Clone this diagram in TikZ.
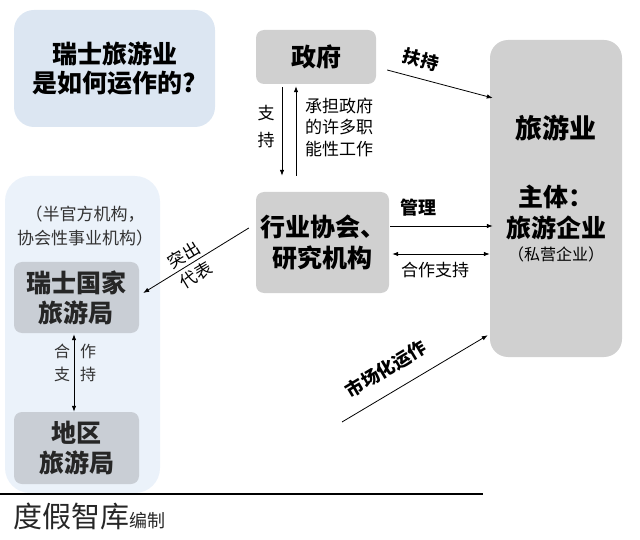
\documentclass[tikz,border=0pt]{standalone}
\usepackage{fontspec}
\setmainfont{Noto Sans CJK SC}
\usetikzlibrary{arrows.meta}
\definecolor{boxgray}{HTML}{D0D0D0}
\definecolor{titleblue}{HTML}{DCE6F2}
\definecolor{paleblue}{HTML}{EBF2FA}
\definecolor{bureaugray}{HTML}{C9CED5}
\tikzset{box/.style = {rounded corners=8pt, align=center, inner sep=0pt,
                       font=\bfseries\fontsize{25}{30}\selectfont},
         graybox/.style = {box, fill=boxgray},
         bureau/.style = {box, fill=bureaugray, text=black!85},
         small/.style = {align=center, inner sep=0pt, font=\fontsize{17}{24}\selectfont},
         tag/.style = {inner sep=0pt, font=\bfseries\fontsize{18}{22}\selectfont},
         link/.style = {->, line width=0.8pt}}

\begin{document}
\begin{tikzpicture}[x=1pt,y=-1pt,>={Latex[length=6pt,width=4.5pt]}]
    \useasboundingbox(0,0)rectangle(640,540);

    \node[box,fill=titleblue,rounded corners=20pt,minimum width=201pt,minimum height=117pt,
          font=\bfseries\fontsize{25}{29}\selectfont](title)at(114.5,68.5){瑞士旅游业\\是如何运作的?};
    \node[box,fill=paleblue,rounded corners=25pt,minimum width=155pt,minimum height=317pt](panel)at(82.5,334.5){};

    \node[graybox,minimum width=120pt,minimum height=54pt](gov)at(316,57){政府};
    \node[graybox,minimum width=133pt,minimum height=101pt,
          font=\bfseries\fontsize{25}{31}\selectfont](assoc)at(322.5,242.5){行业协会、\\研究机构};
    \node[graybox,rounded corners=18pt,minimum width=132pt,minimum height=317pt](tour)at(556,198.5){};
    \node[box,font=\bfseries\fontsize{27}{30}\selectfont](tourname)at(556,128){旅游业};
    \node[box,font=\bfseries\fontsize{25}{31}\selectfont](tourbody)at(556,212){主体：\\旅游企业};
    \node[small,font=\fontsize{16}{20}\selectfont](tourpriv)at(556,254){（私营企业）};

    \node[bureau,minimum width=125pt,minimum height=71pt](swiss)at(76.5,297.5){瑞士国家\\旅游局};
    \node[bureau,minimum width=125pt,minimum height=72pt](region)at(76.5,448){地区\\旅游局};
    \node[small,text=black!80](semi)at(85,226){（半官方机构，\\协会性事业机构）};

    \draw[link,shorten <=3pt,shorten >=16pt]([xshift=-34pt]gov.south)--([xshift=-34pt]gov.south|-assoc.north);
    \draw[link,shorten <=16pt,shorten >=2pt]([xshift=-20pt]gov.south|-assoc.north)--([xshift=-20pt]gov.south);
    \node[small,font=\fontsize{17}{27}\selectfont](supp)at(266,127){支\\持};
    \node[small,align=left,anchor=west,font=\fontsize{17}{21.5}\selectfont](duty)at(305,127){承担政府\\的许多职\\能性工作};

    \draw[link]([xshift=11pt,yshift=-13pt]gov.east)--([xshift=3pt,yshift=100.5pt]tour.west);
    \node[tag,rotate=-15](fuchi)at(421,60){扶持};

    \draw[link]([xshift=1pt,yshift=16.5pt]assoc.east)--([xshift=3pt,yshift=16.5pt]assoc.east-|tour.west);
    \node[tag](guanli)at(418,208){管理};
    \draw[link,<->]([xshift=3pt,yshift=-11.5pt]assoc.east)--([yshift=-11.5pt]assoc.east-|tour.west);
    \node[small](coop)at(435,270){合作支持};

    \coordinate(mkt)at(342,422);
    \draw[link](mkt)--([xshift=-2pt,yshift=22pt]tour.south west);
    \node[tag,rotate=31](market)at(386,369){市场化运作};

    \draw[link]([xshift=-7pt,yshift=14.5pt]assoc.west)--([xshift=4pt,yshift=4.5pt]swiss.east);
    \node[small,rotate=31](rep)at(190,265){突出\\代表};

    \draw[link,<->,shorten <=1pt]([xshift=-2.5pt]swiss.south)--([xshift=-2.5pt]region.north);
    \node[small,text=black!80,font=\fontsize{16}{23}\selectfont](coopl)at(62,363){合\\支};
    \node[small,text=black!80,font=\fontsize{16}{23}\selectfont](coopr)at(88,363){作\\持};

    \coordinate(rulea)at(0,494);
    \coordinate(ruleb)at(483,494);
    \draw[line width=1.2pt](rulea)--(ruleb);
    \node[anchor=west,inner sep=0pt,text=black!85](credit)at(13,516)
        {{\fontsize{29}{30}\selectfont 度假智库}{\fontsize{18}{20}\selectfont 编制}};
\end{tikzpicture}
\end{document}
